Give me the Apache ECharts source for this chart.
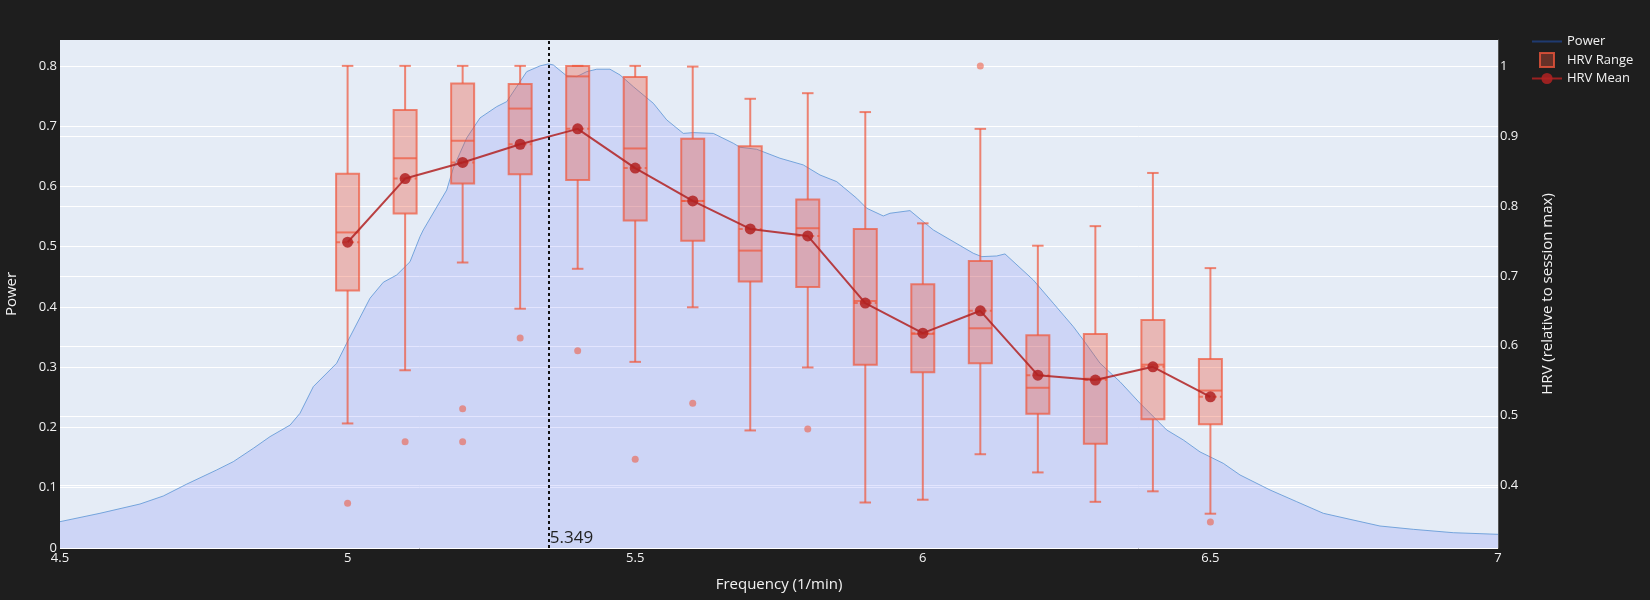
<!DOCTYPE html>
<html>
<head>
<meta charset="utf-8">
<script src="https://cdn.jsdelivr.net/npm/echarts/dist/echarts.min.js"></script>
<style>
  html, body { margin: 0; padding: 0; background: #1e1e1e; }
  #chart { width: 1650px; height: 600px; }
</style>
</head>
<body>
<div id="chart"></div>
<script>
// Spectre de puissance
const powerFreq = [4.5, 4.5695, 4.6391, 4.6796, 4.7203, 4.7724, 4.8013, 4.8361, 4.8651, 4.9, 4.9172, 4.9404, 4.981, 4.9984,
  5.0389, 5.0621, 5.0853, 5.1085, 5.1259, 5.1316, 5.1723, 5.1838, 5.2071, 5.2302, 5.2592, 5.2766, 5.294, 5.3114, 5.3345,
  5.3489, 5.3576, 5.3809, 5.3983, 5.4157, 5.4331, 5.4562, 5.4736, 5.4967, 5.5315, 5.5548, 5.5836, 5.601, 5.6358, 5.6705,
  5.6822, 5.7112, 5.7517, 5.7922, 5.8213, 5.8503, 5.8851, 5.9025, 5.9313, 5.943, 5.9777, 6.0183, 6.0878, 6.1024, 6.1285,
  6.1429, 6.1921, 6.2269, 6.2617, 6.2791, 6.3081, 6.3428, 6.3776, 6.424, 6.4529, 6.4819, 6.5224, 6.5515, 6.6036, 6.65,
  6.6963, 6.7427, 6.7948, 6.8527, 6.9223, 7.0];
const powerValue = [0.0437, 0.0576, 0.073, 0.0863, 0.106, 0.1295, 0.1433, 0.1654, 0.1848, 0.204, 0.2235, 0.2678, 0.3066, 0.3398,
  0.4144, 0.441, 0.453, 0.475, 0.5167, 0.5278, 0.594, 0.6307, 0.6805, 0.7137, 0.7324, 0.7407, 0.7656, 0.7905, 0.80,
  0.8033, 0.8016, 0.7834, 0.7822, 0.7905, 0.7945, 0.7945, 0.785, 0.7656, 0.738, 0.7104, 0.688, 0.6893, 0.688, 0.6717,
  0.665, 0.6617, 0.6468, 0.6357, 0.619, 0.608, 0.5804, 0.5638, 0.551, 0.5555, 0.5599, 0.5278, 0.4891, 0.4835, 0.4846,
  0.488, 0.4448, 0.4061, 0.3673, 0.3452, 0.3066, 0.276, 0.2402, 0.1959, 0.1793, 0.1595, 0.1405, 0.1212, 0.0963, 0.0769,
  0.0576, 0.0476, 0.0365, 0.031, 0.0254, 0.0227];
const peakFreq = 5.349;

// HRV par bande de fréquence
const hrvFreq   = [5.0, 5.1, 5.2, 5.3, 5.4, 5.5, 5.6, 5.7, 5.8, 5.9, 6.0, 6.1, 6.2, 6.3, 6.4, 6.5];
const hrvMin    = [0.489, 0.565, 0.719, 0.653, 0.710, 0.577, 0.655, 0.479, 0.569, 0.376, 0.380, 0.445, 0.419, 0.377, 0.392, 0.360];
const hrvQ1     = [0.679, 0.789, 0.832, 0.845, 0.837, 0.779, 0.750, 0.692, 0.684, 0.573, 0.562, 0.575, 0.503, 0.460, 0.495, 0.488];
const hrvMedian = [0.762, 0.868, 0.893, 0.939, 0.985, 0.882, 0.807, 0.736, 0.768, 0.664, 0.617, 0.625, 0.540, 0.553, 0.573, 0.536];
const hrvQ3     = [0.846, 0.937, 0.975, 0.974, 1.000, 0.984, 0.896, 0.885, 0.809, 0.767, 0.688, 0.721, 0.615, 0.617, 0.637, 0.581];
const hrvMax    = [1.0, 1.0, 1.0, 1.0, 1.0, 1.0, 0.999, 0.953, 0.961, 0.934, 0.775, 0.910, 0.743, 0.771, 0.847, 0.711];
const hrvMean   = [0.748, 0.839, 0.862, 0.888, 0.910, 0.854, 0.807, 0.767, 0.757, 0.661, 0.618, 0.650, 0.558, 0.551, 0.570, 0.527];
const outlierFreq  = [5.0, 5.1, 5.2, 5.2, 5.3, 5.4, 5.5, 5.6, 5.8, 6.1, 6.5];
const outlierValue = [0.375, 0.463, 0.510, 0.463, 0.611, 0.593, 0.438, 0.518, 0.481, 1.0, 0.348];

const boxLine = 'rgba(239,85,59,0.7)';
const boxFill = 'rgba(239,85,59,0.35)';
const meanColor = 'rgba(178,34,34,0.85)';
const boxWidth = 0.04;
const txt = '#f2f2f2';
const font = 'Open Sans';

var myChart = echarts.init(document.getElementById('chart'), null, { renderer: 'canvas' });

function renderBox(params, api) {
    const f = api.value(0);
    const half = api.size([boxWidth, 0])[0] / 2;
    const cap = half / 2;
    const cx = api.coord([f, api.value(3)])[0];
    const y = i => api.coord([f, api.value(i)])[1];
    const yMin = y(1), yQ1 = y(2), yMed = y(3), yQ3 = y(4), yMax = y(5), yMean = y(6);
    const stroke = { stroke: boxLine, lineWidth: 2 };
    return {
        type: 'group',
        children: [
            { type: 'line', shape: { x1: cx, y1: yMax, x2: cx, y2: yQ3 }, style: stroke },
            { type: 'line', shape: { x1: cx, y1: yQ1, x2: cx, y2: yMin }, style: stroke },
            { type: 'line', shape: { x1: cx - cap, y1: yMax, x2: cx + cap, y2: yMax }, style: stroke },
            { type: 'line', shape: { x1: cx - cap, y1: yMin, x2: cx + cap, y2: yMin }, style: stroke },
            { type: 'rect', shape: { x: cx - half, y: yQ3, width: half * 2, height: yQ1 - yQ3 },
              style: { fill: boxFill, stroke: boxLine, lineWidth: 2 } },
            { type: 'line', shape: { x1: cx - half, y1: yMed, x2: cx + half, y2: yMed }, style: stroke },
            { type: 'line', shape: { x1: cx - half, y1: yMean, x2: cx + half, y2: yMean },
              style: { stroke: boxLine, lineWidth: 2, lineDash: [4, 3] } }
        ]
    };
}

var option = {
    backgroundColor: '#1e1e1e',
    animation: false,
    textStyle: { fontFamily: font },
    grid: {
        left: 60, right: 152, top: 40, bottom: 52,
        containLabel: false,
        outerBoundsMode: 'none',
        show: true, backgroundColor: '#e5ecf6', borderWidth: 0
    },
    legend: {
        orient: 'vertical',
        left: 1526,
        top: 30,
        itemWidth: 30,
        itemHeight: 14,
        itemGap: 4,
        textStyle: { color: txt, fontSize: 13, fontFamily: font },
        data: [
            { name: 'Power', icon: 'path://M0,6h30v2h-30z', itemStyle: { color: '#1f3a70' } },
            { name: 'HRV Range', icon: 'path://M0,0h10v10h-10z',
              itemStyle: { color: 'rgba(239,85,59,0.35)', borderColor: 'rgba(239,85,59,0.8)', borderWidth: 2 } },
            { name: 'HRV Mean' }
        ]
    },
    xAxis: {
        type: 'value',
        min: 4.5,
        max: 7,
        interval: 0.5,
        name: 'Frequency (1/min)',
        nameLocation: 'middle',
        nameGap: 29,
        nameTextStyle: { color: txt, fontSize: 15 },
        axisLine: { show: false },
        axisTick: { show: false },
        splitLine: { show: false },
        axisLabel: { color: txt, fontSize: 13, margin: 4 }
    },
    yAxis: [{
        type: 'value',
        min: 0,
        max: 0.843,
        splitNumber: 8,
        name: 'Power',
        nameLocation: 'middle',
        nameRotate: 90,
        nameGap: 41,
        nameTextStyle: { color: txt, fontSize: 15 },
        axisLine: { show: false },
        axisTick: { show: false },
        axisLabel: { color: txt, fontSize: 13, margin: 3, showMaxLabel: false },
        splitLine: { lineStyle: { color: ['#ffffff', '#ffffff', '#ffffff', '#ffffff', '#ffffff', '#ffffff', '#ffffff', '#ffffff', '#ffffff', 'rgba(0,0,0,0)'], width: 1 } }
    }, {
        type: 'value',
        min: 0.311,
        max: 1.037,
        splitNumber: 7,
        position: 'right',
        name: 'HRV (relative to session max)',
        nameLocation: 'middle',
        nameRotate: 90,
        nameGap: 42,
        nameTextStyle: { color: txt, fontSize: 15 },
        axisLine: { show: true, lineStyle: { color: '#555', width: 1 } },
        axisTick: { show: false },
        axisLabel: { color: txt, fontSize: 13, margin: 2, showMinLabel: false, showMaxLabel: false },
        splitLine: { lineStyle: { color: ['rgba(0,0,0,0)', '#ffffff', '#ffffff', '#ffffff', '#ffffff', '#ffffff', '#ffffff', '#ffffff', 'rgba(0,0,0,0)'], width: 1 } }
    }],
    series: [{
        name: 'Power',
        type: 'line',
        yAxisIndex: 0,
        showSymbol: false,
        symbol: 'none',
        data: powerFreq.map((f, i) => [f, powerValue[i]]),
        lineStyle: { color: '#5a94d4', width: 0.8 },
        itemStyle: { color: '#1f3a70' },
        areaStyle: { color: 'rgba(99,110,250,0.25)', origin: 'start' },
        z: 1,
        markLine: {
            silent: true,
            symbol: 'none',
            label: { show: false },
            lineStyle: { color: '#111', width: 2, type: [3, 3] },
            data: [{ xAxis: peakFreq }]
        },
        markPoint: {
            silent: true,
            symbol: 'circle',
            symbolSize: 1,
            itemStyle: { color: 'rgba(0,0,0,0)' },
            label: {
                show: true,
                position: 'right',
                distance: 1,
                offset: [0, -10],
                color: '#222',
                fontSize: 17,
                fontFamily: font,
                formatter: () => peakFreq.toFixed(3)
            },
            data: [{ coord: [peakFreq, 0] }]
        }
    }, {
        name: 'HRV Range',
        type: 'custom',
        yAxisIndex: 1,
        renderItem: renderBox,
        encode: { x: 0, y: [1, 2, 3, 4, 5, 6] },
        itemStyle: { color: boxFill, borderColor: boxLine },
        data: hrvFreq.map((f, i) => [f, hrvMin[i], hrvQ1[i], hrvMedian[i], hrvQ3[i], hrvMax[i], hrvMean[i]]),
        z: 2
    }, {
        name: 'HRV Range',
        type: 'scatter',
        yAxisIndex: 1,
        symbolSize: 7,
        itemStyle: { color: boxLine },
        data: outlierFreq.map((f, i) => [f, outlierValue[i]]),
        z: 2
    }, {
        name: 'HRV Mean',
        type: 'line',
        yAxisIndex: 1,
        symbol: 'circle',
        symbolSize: 11,
        data: hrvFreq.map((f, i) => [f, hrvMean[i]]),
        lineStyle: { color: meanColor, width: 2 },
        itemStyle: { color: meanColor },
        z: 3
    }]
};

myChart.setOption(option);
</script>
</body>
</html>
